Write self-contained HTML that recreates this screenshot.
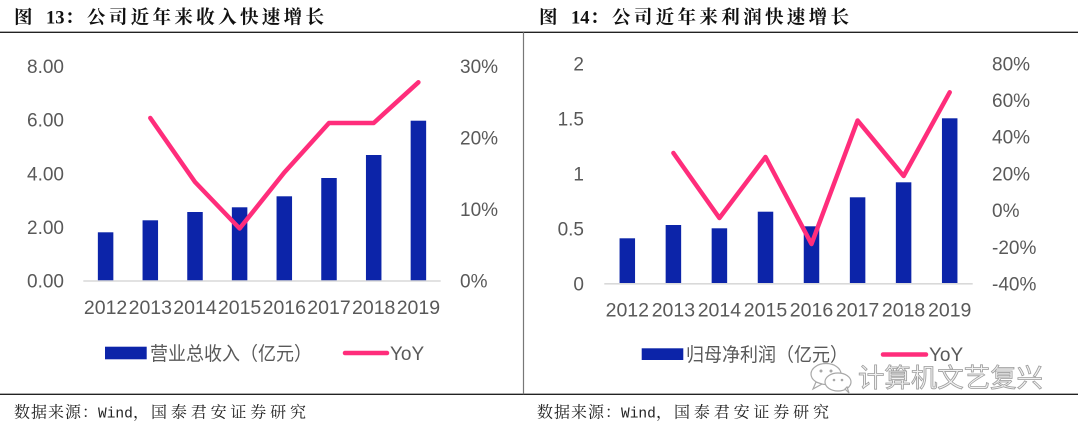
<!DOCTYPE html>
<html>
<head>
<meta charset="utf-8">
<style>
  html,body{margin:0;padding:0;background:#fff;}
  svg{display:block;}
  .yl{font-family:"Liberation Sans","Noto Sans CJK SC",sans-serif;font-size:19px;fill:#595959;}
  .xl{font-family:"Liberation Sans","Noto Sans CJK SC",sans-serif;font-size:19.5px;fill:#595959;}
  .lg{font-family:"Liberation Sans","Noto Sans CJK SC",sans-serif;font-size:19px;fill:#595959;}
  .tt{font-family:"Liberation Serif","Noto Serif CJK SC",serif;font-size:18.5px;font-weight:bold;fill:#111;}
  .src{font-family:"Liberation Mono","Noto Serif CJK SC",serif;font-size:16px;fill:#222;}
</style>
</head>
<body>
<svg width="1080" height="426" viewBox="0 0 1080 426" xmlns="http://www.w3.org/2000/svg">
  <rect width="1080" height="426" fill="#fff"/>

  <!-- frame rules -->
  <line x1="0" y1="32.3" x2="1078" y2="32.3" stroke="#222" stroke-width="1.3"/>
  <line x1="0" y1="394.3" x2="1078" y2="394.3" stroke="#222" stroke-width="1.3"/>
  <line x1="523.5" y1="32.3" x2="523.5" y2="394.3" stroke="#777" stroke-width="1.2"/>

  <!-- ===== LEFT CHART ===== -->
  <text class="tt" x="14" y="23.5">图</text>
  <text class="tt" x="46" y="23.5" font-size="19">13</text>
  <text class="tt" x="65" y="23.5">：</text>
  <text class="tt" x="87" y="23.5" textLength="237" lengthAdjust="spacing">公司近年来收入快速增长</text>

  <!-- left y labels -->
  <g class="yl" text-anchor="end">
    <text x="64" y="73">8.00</text>
    <text x="64" y="126.6">6.00</text>
    <text x="64" y="180.3">4.00</text>
    <text x="64" y="234">2.00</text>
    <text x="64" y="287.7">0.00</text>
  </g>
  <!-- right y labels -->
  <g class="yl" text-anchor="start">
    <text x="460" y="73">30%</text>
    <text x="460" y="144.6">20%</text>
    <text x="460" y="216.1">10%</text>
    <text x="460" y="287.7">0%</text>
  </g>

  <!-- bars -->
  <g fill="#0c24a9">
    <rect x="97.85" y="232.3" width="15.5" height="48.4"/>
    <rect x="142.55" y="220.3" width="15.5" height="60.4"/>
    <rect x="187.25" y="212" width="15.5" height="68.7"/>
    <rect x="231.85" y="207.3" width="15.5" height="73.4"/>
    <rect x="276.55" y="196.3" width="15.5" height="84.4"/>
    <rect x="321.25" y="178" width="15.5" height="102.7"/>
    <rect x="365.95" y="155" width="15.5" height="125.7"/>
    <rect x="410.65" y="120.7" width="15.5" height="160"/>
  </g>
  <line x1="83.3" y1="281" x2="440.7" y2="281" stroke="#d9d9d9" stroke-width="1.6"/>

  <polyline points="150.3,118 195,182 239.6,228.5 284.3,172.5 329,123 373.7,123 418.4,82.3"
    fill="none" stroke="#ff2d7b" stroke-width="4.5" stroke-linejoin="round" stroke-linecap="round"/>

  <!-- x labels -->
  <g class="xl" text-anchor="middle">
    <text x="105.6" y="314">2012</text>
    <text x="150.3" y="314">2013</text>
    <text x="195" y="314">2014</text>
    <text x="239.6" y="314">2015</text>
    <text x="284.3" y="314">2016</text>
    <text x="329" y="314">2017</text>
    <text x="373.7" y="314">2018</text>
    <text x="418.4" y="314">2019</text>
  </g>

  <!-- legend -->
  <rect x="105" y="346.7" width="41.7" height="12.6" fill="#0c24a9"/>
  <text class="lg" x="150" y="360" textLength="162" lengthAdjust="spacingAndGlyphs">营业总收入（亿元）</text>
  <line x1="345" y1="353" x2="387" y2="353" stroke="#ff2d7b" stroke-width="4.5" stroke-linecap="round"/>
  <text class="lg" x="390" y="360">YoY</text>

  <!-- source -->
  <g class="src">
    <text x="14" y="417.5" textLength="84" lengthAdjust="spacing">数据来源：</text>
    <text x="98" y="417.5" font-size="14.5">Wind</text>
    <text x="133" y="417.5">，</text>
    <text x="151" y="417.5" textLength="155" lengthAdjust="spacing">国泰君安证券研究</text>
  </g>

  <!-- ===== RIGHT CHART ===== -->
  <text class="tt" x="539" y="23.5">图</text>
  <text class="tt" x="571" y="23.5" font-size="19">14</text>
  <text class="tt" x="590" y="23.5">：</text>
  <text class="tt" x="612" y="23.5" textLength="237" lengthAdjust="spacing">公司近年来利润快速增长</text>

  <g class="yl" text-anchor="end">
    <text x="584" y="70.3">2</text>
    <text x="584" y="125.4">1.5</text>
    <text x="584" y="180.5">1</text>
    <text x="584" y="235.5">0.5</text>
    <text x="584" y="290.6">0</text>
  </g>
  <g class="yl" text-anchor="start">
    <text x="992" y="70.3">80%</text>
    <text x="992" y="107">60%</text>
    <text x="992" y="143.7">40%</text>
    <text x="992" y="180.5">20%</text>
    <text x="992" y="217.2">0%</text>
    <text x="992" y="253.9">-20%</text>
    <text x="992" y="290.6">-40%</text>
  </g>

  <g fill="#0c24a9">
    <rect x="619.55" y="238.3" width="15.5" height="45.3"/>
    <rect x="665.65" y="225" width="15.5" height="58.6"/>
    <rect x="711.65" y="228.3" width="15.5" height="55.3"/>
    <rect x="757.75" y="211.7" width="15.5" height="71.9"/>
    <rect x="803.75" y="226.3" width="15.5" height="57.3"/>
    <rect x="849.85" y="197.3" width="15.5" height="86.3"/>
    <rect x="895.85" y="182.3" width="15.5" height="101.3"/>
    <rect x="941.95" y="118.3" width="15.5" height="165.3"/>
  </g>
  <line x1="604.3" y1="283.8" x2="972.7" y2="283.8" stroke="#d9d9d9" stroke-width="1.6"/>

  <polyline points="673.4,153 719.4,218 765.5,157 811.5,244 857.6,120.5 903.6,176 949.7,92.3"
    fill="none" stroke="#ff2d7b" stroke-width="4.5" stroke-linejoin="round" stroke-linecap="round"/>

  <g class="xl" text-anchor="middle">
    <text x="627.3" y="316.5">2012</text>
    <text x="673.4" y="316.5">2013</text>
    <text x="719.4" y="316.5">2014</text>
    <text x="765.5" y="316.5">2015</text>
    <text x="811.5" y="316.5">2016</text>
    <text x="857.6" y="316.5">2017</text>
    <text x="903.6" y="316.5">2018</text>
    <text x="949.7" y="316.5">2019</text>
  </g>

  <rect x="641.7" y="348.3" width="41.6" height="11.7" fill="#0c24a9"/>
  <text class="lg" x="686" y="361" textLength="162" lengthAdjust="spacingAndGlyphs">归母净利润（亿元）</text>
  <line x1="883" y1="354.5" x2="926" y2="354.5" stroke="#ff2d7b" stroke-width="4.5" stroke-linecap="round"/>
  <text class="lg" x="929" y="361">YoY</text>

  <!-- watermark -->
  <g fill="#fff" stroke="#a8a8a8" stroke-width="1.2">
    <ellipse cx="826" cy="374" rx="15" ry="10.5"/>
    <path d="M816 382 L813 389 L822 384 Z"/>
    <ellipse cx="838" cy="382" rx="13" ry="9"/>
    <path d="M845 389 L849 393 L847 387 Z"/>
  </g>
  <g fill="#a8a8a8">
    <circle cx="821" cy="371" r="1.5"/>
    <circle cx="831" cy="371" r="1.5"/>
    <circle cx="834" cy="380" r="1.3"/>
    <circle cx="842" cy="380" r="1.3"/>
  </g>
  <text x="858" y="387" textLength="185" lengthAdjust="spacingAndGlyphs"
    font-family="'Liberation Sans','Noto Sans CJK SC',sans-serif" font-size="26"
    fill="#f2f2f2" stroke="#9c9c9c" stroke-width="0.8">计算机文艺复兴</text>

  <g class="src">
    <text x="537" y="417.5" textLength="84" lengthAdjust="spacing">数据来源：</text>
    <text x="621" y="417.5" font-size="14.5">Wind</text>
    <text x="656" y="417.5">，</text>
    <text x="674" y="417.5" textLength="155" lengthAdjust="spacing">国泰君安证券研究</text>
  </g>
</svg>
</body>
</html>
